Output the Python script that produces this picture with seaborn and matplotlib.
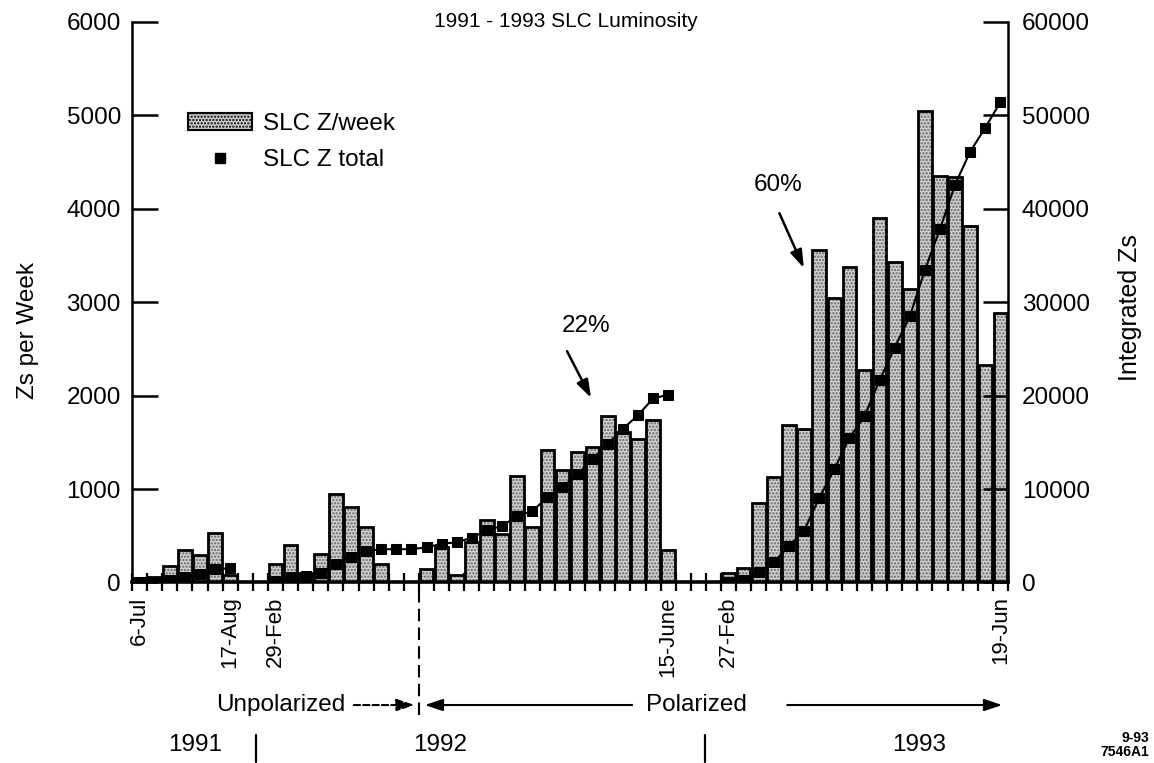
import numpy as np
import pandas as pd
import matplotlib
matplotlib.use("Agg")
import matplotlib.pyplot as plt
import matplotlib.transforms as mtransforms
from matplotlib.patches import Patch
from matplotlib.lines import Line2D
import seaborn as sns

# ---------------- data ----------------
weeks = list(range(58))
z_per_week = [50, 60, 180, 345, 290, 530, 80, 0, 0,
              200, 405, 100, 300, 950, 808, 595, 198, 0, 0,
              140, 380, 80, 434, 665, 523, 1145, 594, 1423, 1199, 1402,
              1455, 1786, 1608, 1537, 1743, 345, 0, 0, 0,
              100, 150, 850, 1130, 1683, 1645, 3560, 3043, 3374, 2278,
              3902, 3435, 3143, 5048, 4354, 4336, 3820, 2331, 2887]

weeks_run1 = list(range(0, 7))
total_run1 = [40, 100, 280, 630, 920, 1450, 1520]
weeks_run2 = list(range(9, 36))
total_run2 = [200, 600, 720, 1010, 1960, 2760, 3360, 3560, 3560, 3570,
              3750, 4150, 4300, 4800, 5600, 6050, 7100, 7640, 9100, 10200,
              11600, 13200, 14850, 16450, 17900, 19700, 20100]
weeks_run3 = list(range(39, 58))
total_run3 = [100, 250, 1100, 2200, 3900, 5550, 9050, 12100, 15500, 17800,
              21650, 25150, 28500, 33450, 37850, 42600, 46130, 48700, 51440]

tick_weeks = [0, 6, 9, 35, 39, 57]
tick_labels = ["6-Jul", "17-Aug", "29-Feb", "15-June", "27-Feb", "19-Jun"]
left_ticks = [0, 1000, 2000, 3000, 4000, 5000, 6000]
right_ticks = [0, 10000, 20000, 30000, 40000, 50000, 60000]
year_labels = ["1991", "1992", "1993"]
year_pos = [3.66, 19.9, 51.6]

# ---------------- style ----------------
sns.set_theme(style="white", rc={
    "text.color": "black", "axes.labelcolor": "black",
    "xtick.color": "black", "ytick.color": "black",
    "axes.edgecolor": "black",
})
plt.rcParams["font.family"] = ["Liberation Sans", "DejaVu Sans"]
plt.rcParams["hatch.linewidth"] = 1.1

fig = plt.figure(figsize=(11.54, 7.63), dpi=100)
ax = fig.add_axes([0.11438, 0.23657, 0.75910, 0.73460])

df = pd.DataFrame({"week": weeks, "z": z_per_week})
sns.barplot(data=df, x="week", y="z", order=weeks, color="#d0d0d0",
            saturation=1, width=0.9, linewidth=0, ax=ax)
for p in ax.patches:
    p.set_hatch(".....")
    p.set_edgecolor("#666666")
    p.set_linewidth(0)
sns.barplot(data=df, x="week", y="z", order=weeks, color="black",
            fill=False, width=0.9, linewidth=2.0, ax=ax)

ax2 = ax.twinx()
df_tot = pd.DataFrame({
    "week": weeks_run1 + weeks_run2 + weeks_run3,
    "total": total_run1 + total_run2 + total_run3,
    "run": ["1991"] * len(weeks_run1) + ["1992"] * len(weeks_run2) + ["1993"] * len(weeks_run3),
})
sns.lineplot(data=df_tot, x="week", y="total", units="run", estimator=None,
             color="black", marker="s", markersize=7.5, markeredgecolor="black",
             linewidth=1.5, legend=False, ax=ax2)

ax.set_xlim(-0.5, 57.5)
ax.set_ylim(0, 6000)
ax2.set_ylim(0, 60000)

# ---------------- axes / ticks ----------------
ax.set_yticks(left_ticks)
ax.set_yticklabels([str(v) for v in left_ticks])
ax2.set_yticks(right_ticks)
ax2.set_yticklabels([str(v) for v in right_ticks])
ax.tick_params(axis="y", which="major", left=True, direction="in", length=19,
               width=1.8, labelsize=17.5, pad=8)
ax2.tick_params(axis="y", which="major", right=True, direction="in", length=18,
                width=1.8, labelsize=17.5, pad=10)

ax.set_xticks(tick_weeks)
ax.set_xticklabels(tick_labels, rotation=90)
ax.tick_params(axis="x", which="major", bottom=True, length=0, labelsize=16, pad=10)
ax.set_xticks(np.arange(-0.5, 58, 1), minor=True)
ax.tick_params(axis="x", which="minor", bottom=True, direction="inout", length=13,
               width=1.6)

for s in ["top", "right"]:
    ax.spines[s].set_visible(False)
for s in ["top", "left", "bottom"]:
    ax2.spines[s].set_visible(False)
ax.spines["left"].set_linewidth(1.8)
ax.spines["bottom"].set_linewidth(2.6)
ax2.spines["right"].set_linewidth(1.8)

ax.set_xlabel("")
ax.set_ylabel("Zs per Week", fontsize=17.5)
ax.yaxis.label.set_va("center")
ax.yaxis.set_label_coords(-0.1187, 0.449)
ax2.set_ylabel("Integrated Zs", fontsize=18)
ax2.yaxis.label.set_va("center")
ax2.yaxis.set_label_coords(1.139, 0.49)

ax.text(0.4954, 1.0, "1991 - 1993 SLC Luminosity", transform=ax.transAxes,
        ha="center", va="center", fontsize=15)

# ---------------- legend ----------------
handles = [Patch(facecolor="#cfcfcf", edgecolor="black", hatch=".....", linewidth=1.5),
           Line2D([], [], color="black", marker="s", linestyle="none", markersize=7)]
ax.legend(handles, ["SLC Z/week", "SLC Z total"], loc="upper left",
          bbox_to_anchor=(0.0639, 0.838), frameon=False, fontsize=17.5,
          handlelength=2.65, handletextpad=0.42, labelspacing=0.6,
          borderaxespad=0, borderpad=0)

# ---------------- annotations ----------------
head = "-|>,head_length=0.9,head_width=0.3"
ax.annotate("", xy=(29.98, 1950), xytext=(28.22, 2502),
            arrowprops=dict(arrowstyle=head, color="black", lw=1.8))
ax.text(29.57, 2751, "22%", ha="center", va="center", fontsize=17.5)
ax.annotate("", xy=(44.06, 3339), xytext=(42.29, 3980),
            arrowprops=dict(arrowstyle=head, color="black", lw=1.8))
ax.text(42.27, 4257, "60%", ha="center", va="center", fontsize=17.5)

trans = mtransforms.blended_transform_factory(ax.transData, ax.transAxes)
yrow = -0.2186
ax.text(13.6, yrow, "Unpolarized", transform=trans, ha="right", va="center", fontsize=17.5)
ax.annotate("", xy=(18.4, yrow), xytext=(14.0, yrow), xycoords=trans, textcoords=trans,
            arrowprops=dict(arrowstyle=head, color="black", lw=1.5, linestyle=(0, (3, 1.5))))
ax.plot([18.5, 18.5], [-0.013, -0.245], transform=trans, clip_on=False,
        color="black", lw=1.5, ls=(0, (6, 3)))
ax.annotate("", xy=(18.7, yrow), xytext=(32.8, yrow), xycoords=trans, textcoords=trans,
            arrowprops=dict(arrowstyle=head, color="black", lw=1.5))
ax.text(36.9, yrow, "Polarized", transform=trans, ha="center", va="center", fontsize=17.5)
ax.annotate("", xy=(57.3, yrow), xytext=(42.7, yrow), xycoords=trans, textcoords=trans,
            arrowprops=dict(arrowstyle=head, color="black", lw=1.5))

for lab, xp in zip(year_labels, year_pos):
    ax.text(xp, -0.29, lab, transform=trans, ha="center", va="center", fontsize=17.5)
for xp in [7.73, 37.44]:
    ax.plot([xp, xp], [-0.272, -0.320], transform=trans, clip_on=False,
            color="black", lw=1.6)

fig.text(0.996, 0.0328, "9-93", ha="right", va="center", fontsize=10, fontweight="bold")
fig.text(0.996, 0.0144, "7546A1", ha="right", va="center", fontsize=10, fontweight="bold")

fig.savefig("out.png", dpi=100)
